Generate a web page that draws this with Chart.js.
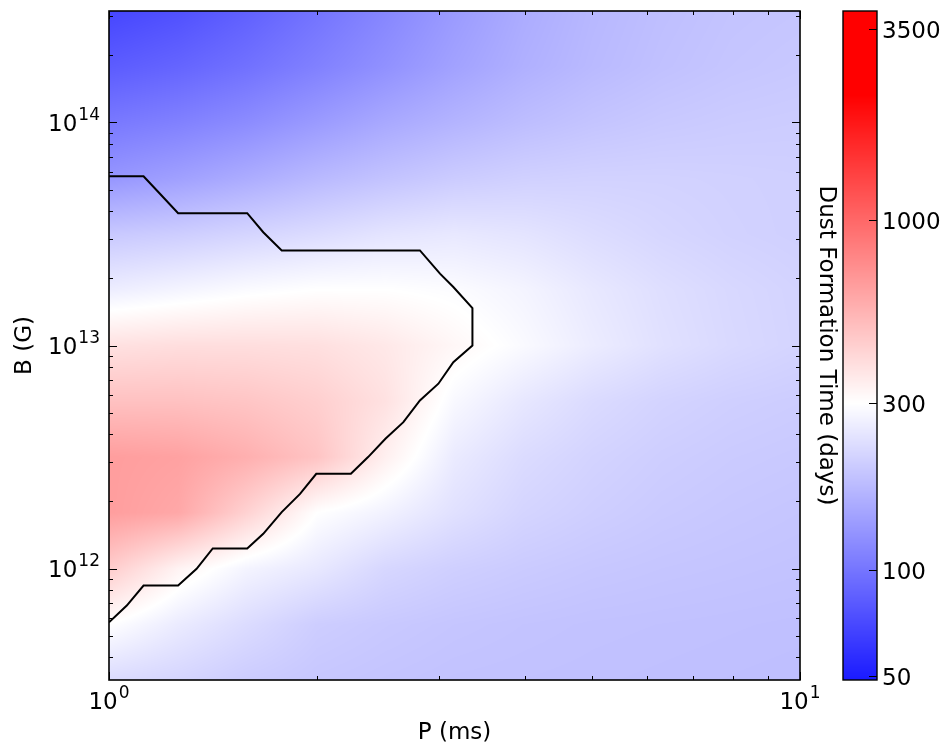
<!DOCTYPE html>
<html>
<head>
<meta charset="utf-8">
<title>Dust Formation Time</title>
<script src="https://cdn.jsdelivr.net/npm/chart.js@4.4.1/dist/chart.umd.min.js"></script>
<style>
    html, body { margin: 0; padding: 0; background: #ffffff; }
    canvas { display: block; }
</style>
</head>
<body>
<canvas id="dust-chart" width="949" height="747"></canvas>
<script>
// dust formation time map over spin period and field strength

// grid columns (P in ms) and rows (B in G, top to bottom)
const periodMs = [1, 1.26, 1.58, 2.0, 2.51, 3.16, 3.98, 5.01, 6.31, 7.94, 10];
const fieldGauss = [3.16e14, 1.78e14, 1e14, 5.62e13, 3.16e13, 1.78e13, 1e13, 5.62e12, 3.16e12, 1.78e12, 1e12, 5.62e11, 3.16e11];

// dust formation time in days, one row per field value
const dustDays = [
    [69, 75, 85, 99, 115, 135, 155, 170, 180, 187, 190],
    [82, 88, 97, 110, 125, 143, 160, 173, 183, 190, 194],
    [103, 110, 120, 135, 151, 165, 178, 188, 195, 199, 201],
    [130, 141, 155, 172, 186, 199, 207, 210, 210, 208, 206],
    [194, 202, 214, 227, 242, 250, 242, 228, 217, 210, 206],
    [260, 275, 290, 300, 300, 292, 275, 250, 232, 220, 212],
    [381, 390, 390, 385, 360, 320, 288, 258, 236, 222, 213],
    [490, 490, 475, 440, 380, 285, 248, 225, 212, 205, 201],
    [650, 630, 565, 480, 340, 255, 226, 212, 203, 198, 195],
    [650, 600, 430, 300, 270, 236, 214, 204, 197, 193, 190],
    [450, 330, 275, 250, 218, 205, 198, 193, 190, 188, 186],
    [300, 256, 227, 202, 195, 190, 187, 185, 184, 183, 182],
    [225, 215, 200, 192, 188, 185, 184, 183, 182, 181, 180]
];

// black contour line
const contourP = [1.0, 1.122, 1.185, 1.259, 1.585, 1.672, 1.778, 2.818, 3.013, 3.150, 3.357,
    3.357, 3.150, 2.997, 2.818, 2.667, 2.512, 2.371, 2.239, 1.995, 1.890, 1.778, 1.672,
    1.585, 1.413, 1.339, 1.259, 1.122, 1.061, 1.0];
const contourB = [5.74e13, 5.74e13, 4.79e13, 3.92e13, 3.92e13, 3.22e13, 2.67e13, 2.67e13, 2.10e13, 1.83e13, 1.47e13,
    1.0e13, 8.41e12, 6.74e12, 5.67e12, 4.53e12, 3.82e12, 3.16e12, 2.66e12, 2.66e12, 2.16e12, 1.79e12, 1.43e12,
    1.23e12, 1.23e12, 9.97e11, 8.39e11, 8.39e11, 6.82e11, 5.74e11];

// tick labels
const xTickExp = [0, 1];
const yTickExp = [12, 13, 14];
const colorTicks = [50, 100, 300, 1000, 3500];

// blue-white-red colour map, log spaced
const cmapLow = 39.6;
const cmapMid = 300;
const cmapHigh = 2270;

const FONT = '"DejaVu Sans", "Liberation Sans", sans-serif';
const TICK_PX = 23;
const EXP_PX = 17;
const LABEL_PX = 23;

const logP = periodMs.map(Math.log10);
const logB = fieldGauss.map(Math.log10);
const logDays = dustDays.map(row => row.map(Math.log10));

function dayColor(days) {
    const t = Math.log10(days);
    const lo = Math.log10(cmapLow), mid = Math.log10(cmapMid), hi = Math.log10(cmapHigh);
    if (t <= mid) {
        const s = Math.max(0, (t - lo) / (mid - lo));
        const c = Math.round(255 * s);
        return [c, c, 255];
    }
    const s = Math.min(1, (t - mid) / (hi - mid));
    const c = Math.round(255 * (1 - s));
    return [255, c, c];
}

// index + fraction inside a sorted (asc or desc) array
function locate(arr, v) {
    const n = arr.length;
    const asc = arr[n - 1] > arr[0];
    for (let i = 0; i < n - 1; i++) {
        const a = arr[i], b = arr[i + 1];
        if ((asc && v <= b) || (!asc && v >= b)) {
            return [i, Math.min(1, Math.max(0, (v - a) / (b - a)))];
        }
    }
    return [n - 2, 1];
}

// heatmap drawn pixel by pixel through the chart scales
const fieldPlugin = {
    id: 'field',
    beforeDatasetsDraw(chart) {
        const { ctx, chartArea: area, scales } = chart;
        const w = Math.round(area.right - area.left);
        const h = Math.round(area.bottom - area.top);
        const off = document.createElement('canvas');
        off.width = w;
        off.height = h;
        const octx = off.getContext('2d');
        const img = octx.createImageData(w, h);

        const cols = [];
        for (let i = 0; i < w; i++) {
            cols.push(locate(logP, Math.log10(scales.x.getValueForPixel(area.left + i + 0.5))));
        }
        for (let j = 0; j < h; j++) {
            const [r, fr] = locate(logB, Math.log10(scales.y.getValueForPixel(area.top + j + 0.5)));
            for (let i = 0; i < w; i++) {
                const [c, fc] = cols[i];
                const top = logDays[r][c] + (logDays[r][c + 1] - logDays[r][c]) * fc;
                const bot = logDays[r + 1][c] + (logDays[r + 1][c + 1] - logDays[r + 1][c]) * fc;
                const col = dayColor(Math.pow(10, top + (bot - top) * fr));
                const k = (j * w + i) * 4;
                img.data[k] = col[0];
                img.data[k + 1] = col[1];
                img.data[k + 2] = col[2];
                img.data[k + 3] = 255;
            }
        }
        octx.putImageData(img, 0, 0);
        ctx.drawImage(off, area.left, area.top);
    }
};

function drawPower(ctx, exp, x, y, align) {
    ctx.font = TICK_PX + 'px ' + FONT;
    const baseW = ctx.measureText('10').width;
    ctx.font = EXP_PX + 'px ' + FONT;
    const expW = ctx.measureText(String(exp)).width;
    const total = baseW + expW + 1;
    const start = align === 'right' ? x - total : x - total / 2;
    ctx.textAlign = 'left';
    ctx.textBaseline = 'alphabetic';
    ctx.font = TICK_PX + 'px ' + FONT;
    ctx.fillText('10', start, y);
    ctx.font = EXP_PX + 'px ' + FONT;
    ctx.fillText(String(exp), start + baseW + 1, y - 11);
}

function logTicks(min, max) {
    const out = [];
    for (let d = Math.floor(Math.log10(min)); d <= Math.ceil(Math.log10(max)); d++) {
        for (let m = 1; m <= 9; m++) {
            const v = m * Math.pow(10, d);
            if (v >= min * 0.999 && v <= max * 1.001) out.push({ v, major: m === 1 });
        }
    }
    return out;
}

// frame, ticks, labels and colour bar
const axesPlugin = {
    id: 'axesDecor',
    afterDraw(chart) {
        const { ctx, chartArea: area, scales } = chart;
        ctx.save();
        ctx.strokeStyle = '#000';
        ctx.fillStyle = '#000';

        // inward ticks on all four sides
        ctx.lineWidth = 1;
        logTicks(scales.x.min, scales.x.max).forEach(t => {
            const px = Math.round(scales.x.getPixelForValue(t.v)) + 0.5;
            const len = t.major ? 8 : 4;
            ctx.beginPath();
            ctx.moveTo(px, area.bottom);
            ctx.lineTo(px, area.bottom - len);
            ctx.moveTo(px, area.top);
            ctx.lineTo(px, area.top + len);
            ctx.stroke();
        });
        logTicks(scales.y.min, scales.y.max).forEach(t => {
            const py = Math.round(scales.y.getPixelForValue(t.v)) + 0.5;
            const len = t.major ? 8 : 4;
            ctx.beginPath();
            ctx.moveTo(area.left, py);
            ctx.lineTo(area.left + len, py);
            ctx.moveTo(area.right, py);
            ctx.lineTo(area.right - len, py);
            ctx.stroke();
        });

        ctx.lineWidth = 1.6;
        ctx.strokeRect(area.left, area.top, area.right - area.left, area.bottom - area.top);

        // tick labels
        xTickExp.forEach(e => {
            drawPower(ctx, e, scales.x.getPixelForValue(Math.pow(10, e)), area.bottom + 29, 'center');
        });
        yTickExp.forEach(e => {
            drawPower(ctx, e, area.left - 9, scales.y.getPixelForValue(Math.pow(10, e)) + 8, 'right');
        });

        // axis titles
        ctx.font = LABEL_PX + 'px ' + FONT;
        ctx.textAlign = 'center';
        ctx.textBaseline = 'alphabetic';
        ctx.fillText('P (ms)', (area.left + area.right) / 2, area.bottom + 59);
        ctx.save();
        ctx.translate(area.left - 84, (area.top + area.bottom) / 2);
        ctx.rotate(-Math.PI / 2);
        ctx.textBaseline = 'middle';
        ctx.fillText('B (G)', 0, 0);
        ctx.restore();

        // colour bar
        const cb = scales.cb;
        const barL = area.right + 43;
        const barW = 34;
        for (let py = Math.floor(area.top); py < Math.ceil(area.bottom); py++) {
            const col = dayColor(cb.getValueForPixel(py + 0.5));
            ctx.fillStyle = `rgb(${col[0]},${col[1]},${col[2]})`;
            ctx.fillRect(barL, py, barW, 1);
        }
        ctx.fillStyle = '#000';
        ctx.lineWidth = 1.4;
        ctx.strokeRect(barL, area.top, barW, area.bottom - area.top);
        ctx.lineWidth = 1;
        ctx.font = TICK_PX + 'px ' + FONT;
        ctx.textAlign = 'left';
        ctx.textBaseline = 'alphabetic';
        colorTicks.forEach(v => {
            const py = Math.round(cb.getPixelForValue(v)) + 0.5;
            ctx.beginPath();
            ctx.moveTo(barL + barW, py);
            ctx.lineTo(barL + barW - 8, py);
            ctx.stroke();
            ctx.fillText(String(v), barL + barW + 5, py + 8);
        });

        ctx.save();
        ctx.translate(area.right + 26, (area.top + area.bottom) / 2);
        ctx.rotate(Math.PI / 2);
        ctx.font = LABEL_PX + 'px ' + FONT;
        ctx.textAlign = 'center';
        ctx.textBaseline = 'middle';
        ctx.fillText('Dust Formation Time (days)', 0, 0);
        ctx.restore();

        ctx.restore();
    }
};

const contourPoints = contourP.map((p, i) => ({ x: p, y: contourB[i] }));

new Chart(document.getElementById('dust-chart'), {
    type: 'scatter',
    data: {
        datasets: [{
            label: 'contour',
            data: contourPoints,
            showLine: true,
            borderColor: '#000000',
            borderWidth: 2,
            pointRadius: 0,
            tension: 0,
            fill: false
        }]
    },
    options: {
        responsive: false,
        animation: false,
        devicePixelRatio: 1,
        layout: {
            padding: { left: 109, right: 149, top: 11, bottom: 67 }
        },
        plugins: {
            legend: { display: false },
            tooltip: { enabled: false }
        },
        scales: {
            x: { type: 'logarithmic', min: 1, max: 10, display: false },
            y: { type: 'logarithmic', min: Math.pow(10, 11.5), max: Math.pow(10, 14.5), display: false },
            cb: { type: 'logarithmic', axis: 'y', min: 48.7, max: 3940, display: false }
        }
    },
    plugins: [fieldPlugin, axesPlugin]
});
</script>
</body>
</html>
